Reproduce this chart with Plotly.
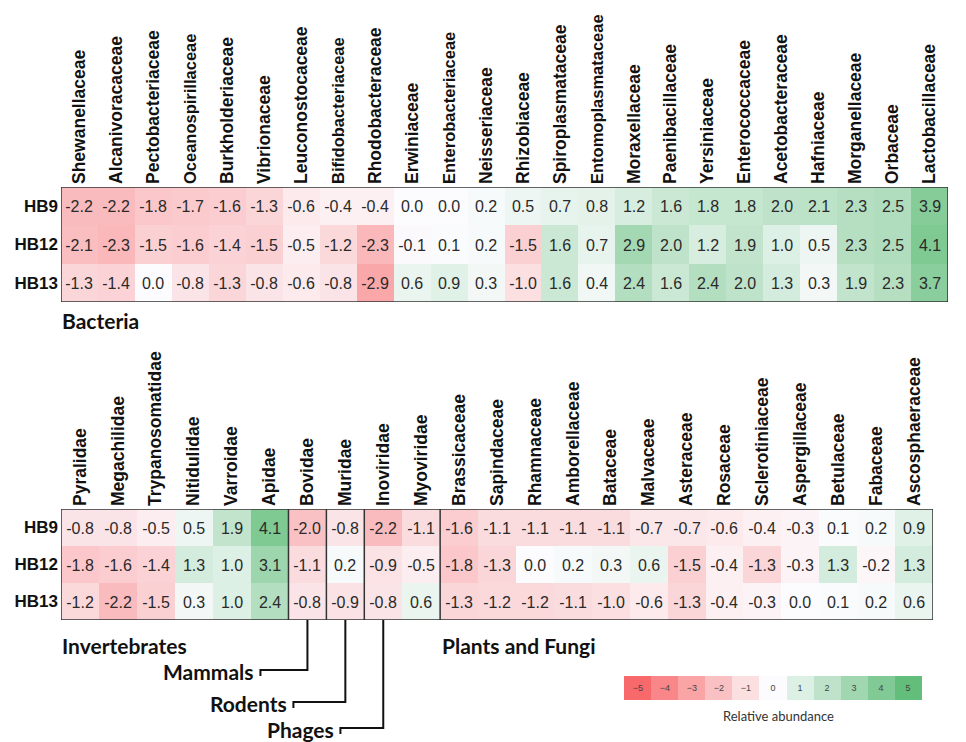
import plotly.graph_objects as go

# ---------------- data ----------------
samples = ["HB9", "HB12", "HB13"]

bacteria = ["Shewanellaceae", "Alcanivoracaceae", "Pectobacteriaceae", "Oceanospirillaceae",
            "Burkholderiaceae", "Vibrionaceae", "Leuconostocaceae", "Bifidobacteriaceae",
            "Rhodobacteraceae", "Erwiniaceae", "Enterobacteriaceae", "Neisseriaceae",
            "Rhizobiaceae", "Spiroplasmataceae", "Entomoplasmataceae", "Moraxellaceae",
            "Paenibacillaceae", "Yersiniaceae", "Enterococcaceae", "Acetobacteraceae",
            "Hafniaceae", "Morganellaceae", "Orbaceae", "Lactobacillaceae"]
bact_hb9 = [-2.2, -2.2, -1.8, -1.7, -1.6, -1.3, -0.6, -0.4, -0.4, 0.0, 0.0, 0.2,
            0.5, 0.7, 0.8, 1.2, 1.6, 1.8, 1.8, 2.0, 2.1, 2.3, 2.5, 3.9]
bact_hb12 = [-2.1, -2.3, -1.5, -1.6, -1.4, -1.5, -0.5, -1.2, -2.3, -0.1, 0.1, 0.2,
             -1.5, 1.6, 0.7, 2.9, 2.0, 1.2, 1.9, 1.0, 0.5, 2.3, 2.5, 4.1]
bact_hb13 = [-1.3, -1.4, 0.0, -0.8, -1.3, -0.8, -0.6, -0.8, -2.9, 0.6, 0.9, 0.3,
             -1.0, 1.6, 0.4, 2.4, 1.6, 2.4, 2.0, 1.3, 0.3, 1.9, 2.3, 3.7]

others = ["Pyralidae", "Megachilidae", "Trypanosomatidae", "Nitidulidae", "Varroidae",
          "Apidae", "Bovidae", "Muridae", "Inoviridae", "Myoviridae", "Brassicaceae",
          "Sapindaceae", "Rhamnaceae", "Amborellaceae", "Bataceae", "Malvaceae",
          "Asteraceae", "Rosaceae", "Sclerotiniaceae", "Aspergillaceae", "Betulaceae",
          "Fabaceae", "Ascosphaeraceae"]
oth_hb9 = [-0.8, -0.8, -0.5, 0.5, 1.9, 4.1, -2.0, -0.8, -2.2, -1.1, -1.6, -1.1,
           -1.1, -1.1, -1.1, -0.7, -0.7, -0.6, -0.4, -0.3, 0.1, 0.2, 0.9]
oth_hb12 = [-1.8, -1.6, -1.4, 1.3, 1.0, 3.1, -1.1, 0.2, -0.9, -0.5, -1.8, -1.3,
            0.0, 0.2, 0.3, 0.6, -1.5, -0.4, -1.3, -0.3, 1.3, -0.2, 1.3]
oth_hb13 = [-1.2, -2.2, -1.5, 0.3, 1.0, 2.4, -0.8, -0.9, -0.8, 0.6, -1.3, -1.2,
            -1.2, -1.1, -1.0, -0.6, -1.3, -0.4, -0.3, 0.0, 0.1, 0.2, 0.6]

# group separators (last column of each group) and callout labels
separators_after = ["Apidae", "Bovidae", "Muridae", "Myoviridae"]
callout_labels = ["Mammals", "Rodents", "Phages"]
callout_columns = ["Bovidae", "Muridae", "Inoviridae"]

legend_values = [-5, -4, -3, -2, -1, 0, 1, 2, 3, 4, 5]

# ---------------- style ----------------
VW, VH = 966, 742      # browser viewport
OFF = 8                # default body margin of the html page
W, H = VW - OFF, VH - OFF
colorscale = [[0.0, "#F8696B"], [0.5, "#FCFCFF"], [1.0, "#63BE7B"]]
ARIAL = "Arial, Liberation Sans, sans-serif"
CALIBRI = "Lato, Open Sans, sans-serif"
LONG_LABEL_LIMIT = 17   # labels longer than this are drawn slightly smaller to fit


def px_x(p):
    return (p - OFF) / W


def px_y(p):
    return 1 - (p - OFF) / H


def fit_label(name):
    if len(name) > LONG_LABEL_LIMIT:
        return f'<span style="font-size:16.5px">{name}</span>'
    return name


top_dom_x = [px_x(61), px_x(948)]
top_dom_y = [px_y(302), px_y(187)]
bot_dom_x = [px_x(61), px_x(933)]
bot_dom_y = [px_y(620), px_y(509)]
leg_dom_x = [px_x(624), px_x(922)]
leg_dom_y = [px_y(700), px_y(676)]

fig = go.Figure()
rows = list(range(len(samples)))

cell_font = dict(family=ARIAL, size=16, color="#2a2a2a")
fig.add_trace(go.Heatmap(
    z=[bact_hb9, bact_hb12, bact_hb13], x=list(range(len(bacteria))), y=rows,
    zmin=-5, zmax=5, colorscale=colorscale, showscale=False,
    texttemplate="%{z:.1f}", textfont=cell_font,
    hoverinfo="skip", xaxis="x", yaxis="y"))

fig.add_trace(go.Heatmap(
    z=[oth_hb9, oth_hb12, oth_hb13], x=list(range(len(others))), y=rows,
    zmin=-5, zmax=5, colorscale=colorscale, showscale=False,
    texttemplate="%{z:.1f}", textfont=cell_font,
    hoverinfo="skip", xaxis="x2", yaxis="y2"))

fig.add_trace(go.Heatmap(
    z=[legend_values], x=list(range(len(legend_values))), y=[0],
    zmin=-5, zmax=5, colorscale=colorscale, showscale=False,
    texttemplate="%{z}", textfont=dict(family=ARIAL, size=9, color="#444"),
    hoverinfo="skip", xaxis="x3", yaxis="y3"))

xcommon = dict(side="top", tickangle=-90, showgrid=False, zeroline=False, ticks="",
               tickfont=dict(family=ARIAL, size=17.5, color="#111", weight="bold"),
               ticklabelstandoff=2, showline=False, automargin=False)
ycommon = dict(showgrid=False, zeroline=False, ticks="", range=[2.5, -0.5],
               tickvals=rows, ticktext=samples, automargin=False,
               tickfont=dict(family=ARIAL, size=17, color="#111", weight="bold"),
               ticklabelstandoff=2)

fig.update_layout(
    width=W, height=H, margin=dict(l=0, r=0, t=0, b=0, pad=0),
    paper_bgcolor="white", plot_bgcolor="white",
    xaxis=dict(domain=top_dom_x, range=[-0.5, len(bacteria) - 0.5],
               tickvals=list(range(len(bacteria))),
               ticktext=[fit_label(b) for b in bacteria], anchor="y", **xcommon),
    yaxis=dict(domain=top_dom_y, anchor="x", **ycommon),
    xaxis2=dict(domain=bot_dom_x, range=[-0.5, len(others) - 0.5],
                tickvals=list(range(len(others))),
                ticktext=[fit_label(o) for o in others], anchor="y2", **xcommon),
    yaxis2=dict(domain=bot_dom_y, anchor="x2", **ycommon),
    xaxis3=dict(domain=leg_dom_x, range=[-0.5, len(legend_values) - 0.5], visible=False,
                anchor="y3", automargin=False),
    yaxis3=dict(domain=leg_dom_y, range=[-0.5, 0.5], visible=False, anchor="x3",
                automargin=False),
    showlegend=False,
)

shapes = []
line_c = "#333333"
shapes.append(dict(type="rect", xref="x", yref="y", x0=-0.5, x1=len(bacteria) - 0.5,
                   y0=-0.5, y1=2.5, line=dict(color=line_c, width=1.5)))
shapes.append(dict(type="rect", xref="x2", yref="y2", x0=-0.5, x1=len(others) - 0.5,
                   y0=-0.5, y1=2.5, line=dict(color=line_c, width=1.5)))
for name in separators_after:
    i = others.index(name)
    shapes.append(dict(type="line", xref="x2", yref="y2", x0=i + 0.5, x1=i + 0.5,
                       y0=-0.5, y1=2.5, line=dict(color=line_c, width=1.5)))

# callout leaders (elbow lines from the column down to the label)
leader_y_px = [670, 702, 728]
leader_arm = [1.24, 1.37, 1.13]     # horizontal arm length, in columns
hook = 6 / H
for label, col, ypx, arm in zip(callout_labels, callout_columns, leader_y_px, leader_arm):
    i = others.index(col)
    yb = bot_dom_y[0]
    yl = px_y(ypx)
    path = f"M {i},{yb} L {i},{yl} L {i - arm},{yl} L {i - arm},{yl - hook}"
    shapes.append(dict(type="path", xref="x2", yref="paper", path=path,
                       line=dict(color="#111", width=2)))
fig.update_layout(shapes=shapes)

big = dict(family=CALIBRI, size=21, color="#111")
annotations = [
    dict(text="<b>Bacteria</b>", xref="paper", yref="paper", x=px_x(60), y=px_y(320),
         xanchor="left", yanchor="middle", showarrow=False, font=big),
    dict(text="<b>Invertebrates</b>", xref="paper", yref="paper", x=px_x(60), y=px_y(645),
         xanchor="left", yanchor="middle", showarrow=False, font=big),
    dict(text="<b>Plants and Fungi</b>", xref="x2", yref="paper",
         x=others.index("Brassicaceae") - 0.5, y=px_y(645),
         xanchor="left", yanchor="middle", showarrow=False, font=big),
    dict(text="Relative abundance", xref="paper", yref="paper", x=px_x(778), y=px_y(716),
         xanchor="center", yanchor="middle", showarrow=False,
         font=dict(family=CALIBRI, size=13, color="#333")),
]
for label, col, ypx, arm in zip(callout_labels, callout_columns, leader_y_px, leader_arm):
    i = others.index(col)
    annotations.append(dict(text=f"<b>{label}</b>", xref="x2", yref="paper",
                            x=i - arm - 0.12, y=px_y(ypx + 1), xanchor="right",
                            yanchor="middle", showarrow=False, font=big))
fig.update_layout(annotations=annotations)

fig.write_html("out.html")
